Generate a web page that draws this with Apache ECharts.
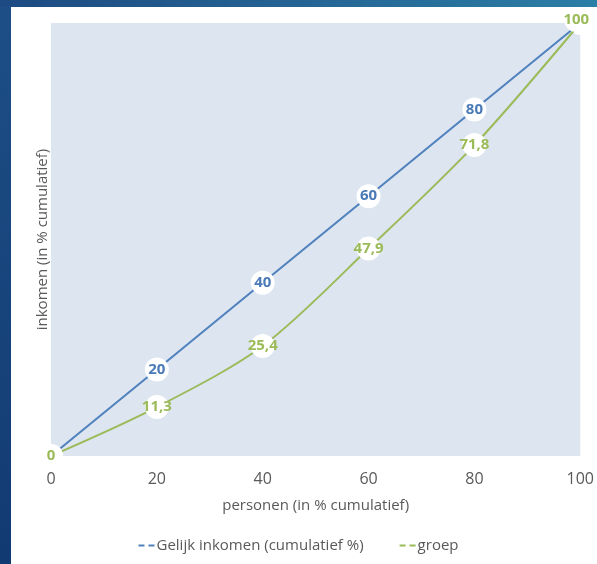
<!DOCTYPE html>
<html><head><meta charset="utf-8">
<script src="https://cdn.jsdelivr.net/npm/echarts@6/dist/echarts.min.js"></script>
<style>html,body{margin:0;padding:0;background:#fff}#c{width:597px;height:564px}</style>
</head><body><div id="c"></div>
<script>
const xValues = [0, 20, 40, 60, 80, 100];
const gelijk = [0, 20, 40, 60, 80, 100];
const groep = [0, 11.3, 25.4, 47.9, 71.8, 100];
const seriesNames = ['Gelijk inkomen (cumulatief %)', 'groep'];
const blue = '#4f81bd', green = '#9bbb59';
const font = '"Open Sans", "Noto Sans", sans-serif';
function fmt(v){ return String(v).replace('.', ','); }

const chart = echarts.init(document.getElementById('c'), null, {renderer:'canvas'});
const legendIcon = 'path://M0,0H6V2H0Z M10,0H16V2H10Z';
const labelBase = {
  show:true, position:'inside', fontWeight:'bold', fontSize:15, fontFamily:font,
  backgroundColor:'#ffffff', borderRadius:12, width:22, height:22, lineHeight:22,
  padding:[1,1,1,1], align:'center', verticalAlign:'middle', overflow:'none'
};
chart.setOption({
  backgroundColor: '#ffffff',
  animation: false,
  graphic: [
    {type:'rect', left:0, top:0, shape:{width:11, height:564}, style:{fill: new echarts.graphic.LinearGradient(0,0,0,1,[{offset:0,color:'#1d4f86'},{offset:1,color:'#123a72'}])}, z:-10},
    {type:'rect', left:0, top:0, shape:{width:597, height:7}, style:{fill: new echarts.graphic.LinearGradient(0,0,1,0,[{offset:0,color:'#1d4a82'},{offset:1,color:'#2b7ea6'}])}, z:-10}
  ],
  grid: {left:51, right:16, top:23, bottom:108, show:true, backgroundColor:'#dde5f1', borderWidth:0},
  xAxis: {
    type:'value', min:0, max:100, interval:20,
    axisLine:{show:false}, axisTick:{show:false}, splitLine:{show:false},
    axisLabel:{color:'#595959', fontSize:16, fontFamily:font, margin:15},
    name:'personen (in % cumulatief)', nameLocation:'middle', nameGap:42,
    nameTextStyle:{color:'#595959', fontSize:15, fontFamily:font}
  },
  yAxis: {
    type:'value', min:0, max:100, interval:20,
    axisLine:{show:false}, axisTick:{show:false}, splitLine:{show:false},
    axisLabel:{show:false},
    name:'inkomen (in % cumulatief)', nameLocation:'middle', nameGap:1,
    nameTextStyle:{color:'#595959', fontSize:15, fontFamily:font}
  },
  legend: {
    bottom:6, left:'center', itemGap:36, itemWidth:16, itemHeight:2,
    textStyle:{color:'#595959', fontSize:15, fontFamily:font, padding:[0,0,0,-3]},
    data:[
      {name:seriesNames[0], icon:legendIcon, itemStyle:{color:blue}},
      {name:seriesNames[1], icon:legendIcon, itemStyle:{color:green}}
    ]
  },
  series: [
    {
      name: seriesNames[0], type:'line', symbol:'circle', symbolSize:1, showSymbol:true,
      data: xValues.map((x,i)=>[x, gelijk[i]]),
      lineStyle:{color:blue, width:2}, itemStyle:{color:blue},
      label:Object.assign({}, labelBase, {color:'#4a7ab8',
        formatter: p => (p.value[0]===0 || p.value[0]===100) ? '' : fmt(p.value[1])}),
      z:3
    },
    {
      name: seriesNames[1], type:'line', symbol:'circle', symbolSize:1, showSymbol:true, smooth:0.3,
      data: xValues.map((x,i)=>[x, groep[i]]),
      lineStyle:{color:green, width:2}, itemStyle:{color:green},
      label:Object.assign({}, labelBase, {color:green,
        formatter: p => fmt(p.value[1])}),
      labelLayout: function(params){
        if (params.dataIndex===xValues.length-1) return {dx:-4, dy:-3};
        return {};
      },
      z:4
    }
  ]
});
</script></body></html>
